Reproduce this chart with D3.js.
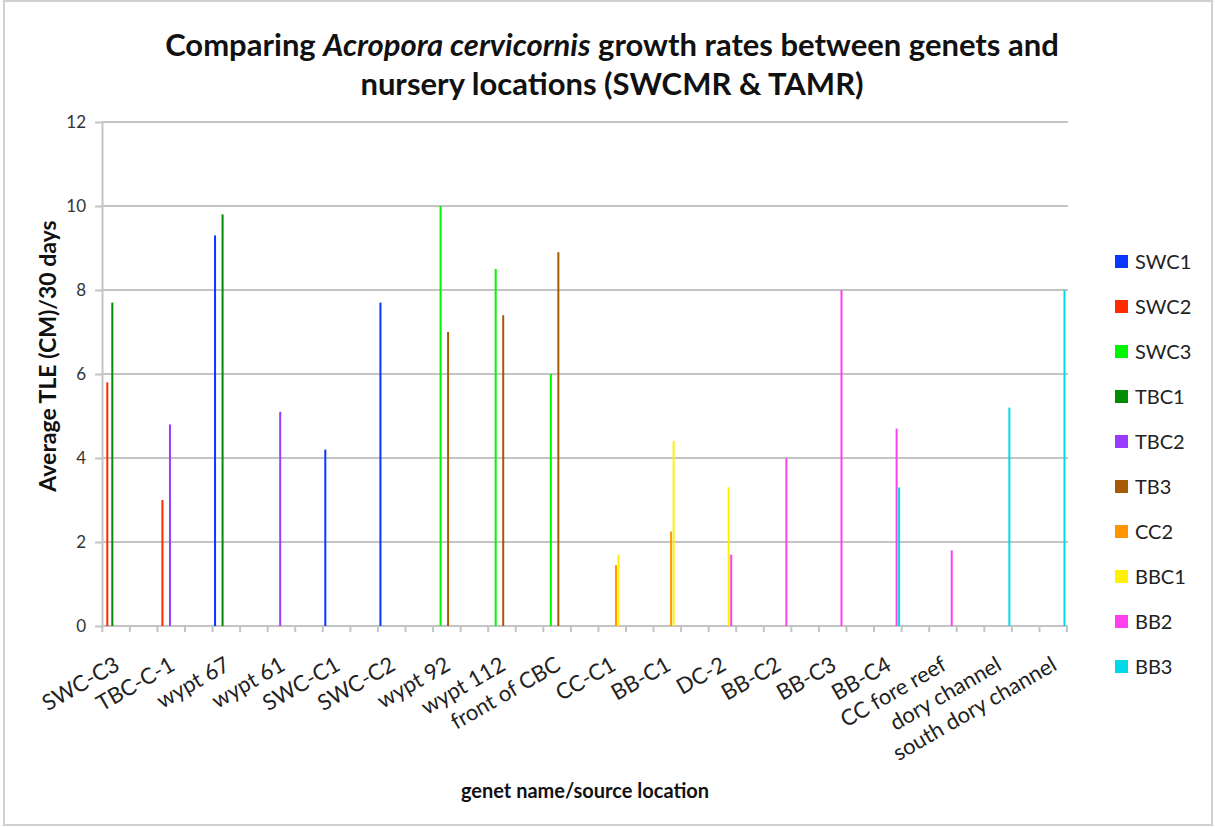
<!DOCTYPE html>
<html>
<head>
<meta charset="utf-8">
<script src="https://cdn.jsdelivr.net/npm/d3@7"></script>
<style>
  body { margin: 0; background: #fff; }
  svg { display: block; font-family: Lato, "Open Sans", sans-serif; }
</style>
</head>
<body>
<svg id="chart" width="1215" height="827"></svg>
<script>
// genet name / source location
const categories = [
  "SWC-C3", "TBC-C-1", "wypt 67", "wypt 61", "SWC-C1", "SWC-C2",
  "wypt 92", "wypt 112", "front of CBC", "CC-C1", "BB-C1", "DC-2",
  "BB-C2", "BB-C3", "BB-C4", "CC fore reef", "dory channel", "south dory channel"
];

const seriesNames = ["SWC1", "SWC2", "SWC3", "TBC1", "TBC2", "TB3", "CC2", "BBC1", "BB2", "BB3"];
const seriesColors = ["#0a36ff", "#ff2a00", "#00f500", "#008c00", "#9a3cff", "#a55a05", "#ff9500", "#fff200", "#ff40ef", "#00d9e8"];

// average TLE (cm) / 30 days, one value per category (null = no bar)
const swc1 = [null, null, 9.3, null, 4.2, 7.7, null, null, null, null, null, null, null, null, null, null, null, null];
const swc2 = [5.8, 3.0, null, null, null, null, null, null, null, null, null, null, null, null, null, null, null, null];
const swc3 = [null, null, null, null, null, null, 10.0, 8.5, 6.0, null, null, null, null, null, null, null, null, null];
const tbc1 = [7.7, null, 9.8, null, null, null, null, null, null, null, null, null, null, null, null, null, null, null];
const tbc2 = [null, 4.8, null, 5.1, null, null, null, null, null, null, null, null, null, null, null, null, null, null];
const tb3  = [null, null, null, null, null, null, 7.0, 7.4, 8.9, null, null, null, null, null, null, null, null, null];
const cc2  = [null, null, null, null, null, null, null, null, null, 1.45, 2.25, null, null, null, null, null, null, null];
const bbc1 = [null, null, null, null, null, null, null, null, null, 1.7, 4.4, 3.3, null, null, null, null, null, null];
const bb2  = [null, null, null, null, null, null, null, null, null, null, null, 1.7, 4.0, 8.0, 4.7, 1.8, null, null];
const bb3  = [null, null, null, null, null, null, null, null, null, null, null, null, null, null, 3.3, null, 5.2, 8.0];

const yTicks = [0, 2, 4, 6, 8, 10, 12];

const seriesValues = [swc1, swc2, swc3, tbc1, tbc2, tb3, cc2, bbc1, bb2, bb3];

const GRID = "#c4c4c4";
const svg = d3.select("#chart");

// light frame round the whole chart
svg.append("rect")
  .attr("x", 4).attr("y", 1)
  .attr("width", 1208).attr("height", 824)
  .attr("fill", "none")
  .attr("stroke", "#d0d0d0")
  .attr("stroke-width", 2);

// scales: every genet takes one slot, followed by an empty slot
const x0 = d3.scaleBand()
  .domain(categories)
  .range([102.3, 1067])
  .paddingInner(0.5)
  .paddingOuter(0);

const x1 = d3.scaleBand()
  .domain(seriesNames)
  .range([0, x0.bandwidth()])
  .paddingInner(0.2)
  .paddingOuter(0.6);

const y = d3.scaleLinear().domain([0, 12]).range([626, 122]);
const color = d3.scaleOrdinal().domain(seriesNames).range(seriesColors);

// horizontal grid lines
svg.append("g")
  .selectAll("line")
  .data(yTicks)
  .join("line")
  .attr("x1", 102).attr("x2", 1068)
  .attr("y1", (d) => y(d)).attr("y2", (d) => y(d))
  .attr("stroke", GRID)
  .attr("stroke-width", 2);

// y axis
const yAxis = svg.append("g")
  .attr("transform", "translate(102,0)")
  .call(d3.axisLeft(y).tickValues(yTicks).tickSize(7).tickPadding(9).tickSizeOuter(0));
yAxis.select(".domain").attr("stroke", GRID).attr("stroke-width", 2);
yAxis.selectAll(".tick line").attr("stroke", GRID).attr("stroke-width", 2);
yAxis.selectAll(".tick text")
  .attr("font-size", 17)
  .attr("font-family", "Lato, sans-serif")
  .attr("fill", "#333");

// x ticks on every slot boundary
const slotCount = categories.length * 2;
const slotStep = x0.step() / 2;
svg.append("g")
  .selectAll("line")
  .data(d3.range(slotCount))
  .join("line")
  .attr("x1", (j) => x0.range()[0] + j * slotStep)
  .attr("x2", (j) => x0.range()[0] + j * slotStep)
  .attr("y1", y(0)).attr("y2", y(0) + 6)
  .attr("stroke", GRID)
  .attr("stroke-width", 2);

// bars
const groups = svg.append("g")
  .selectAll("g")
  .data(seriesNames)
  .join("g")
  .attr("fill", (s) => color(s));

groups.selectAll("rect")
  .data((s, i) => seriesValues[i]
    .map((v, k) => ({ series: s, cat: categories[k], value: v }))
    .filter((d) => d.value != null))
  .join("rect")
  .attr("x", (d) => x0(d.cat) + x1(d.series))
  .attr("width", x1.bandwidth())
  .attr("y", (d) => y(d.value))
  .attr("height", (d) => y(0) - y(d.value));

// category labels, rotated
svg.append("g")
  .selectAll("text")
  .data(categories)
  .join("text")
  .attr("transform", (d) => `translate(${x0(d) + x0.bandwidth() / 2 + 5},669) rotate(-30)`)
  .attr("text-anchor", "end")
  .attr("font-size", 22)
  .attr("fill", "#222")
  .text((d) => d);

// titles
const title = svg.append("text")
  .attr("x", 612)
  .attr("text-anchor", "middle")
  .attr("font-size", 31)
  .attr("font-weight", "bold")
  .attr("fill", "#111");
const line1 = title.append("tspan").attr("x", 612).attr("y", 56);
line1.append("tspan").text("Comparing ");
line1.append("tspan").attr("font-style", "italic").text("Acropora cervicornis");
line1.append("tspan").text(" growth rates between genets and");
title.append("tspan").attr("x", 612).attr("y", 95).text("nursery locations (SWCMR & TAMR)");

svg.append("text")
  .attr("transform", "translate(56,356) rotate(-90)")
  .attr("text-anchor", "middle")
  .attr("font-size", 23)
  .attr("font-weight", "bold")
  .attr("fill", "#111")
  .text("Average TLE (CM)/30 days");

svg.append("text")
  .attr("x", 585).attr("y", 798)
  .attr("text-anchor", "middle")
  .attr("font-size", 20)
  .attr("font-weight", "bold")
  .attr("fill", "#111")
  .text("genet name/source location");

// legend
const legend = svg.append("g")
  .selectAll("g")
  .data(seriesNames)
  .join("g")
  .attr("transform", (d, i) => `translate(1115,${262 + i * 45})`);

legend.append("rect")
  .attr("x", 0).attr("y", -7)
  .attr("width", 13).attr("height", 13)
  .attr("fill", (d) => color(d));

legend.append("text")
  .attr("x", 20)
  .attr("dy", "0.35em")
  .attr("font-size", 20)
  .attr("fill", "#222")
  .text((d) => d);
</script>
</body>
</html>
